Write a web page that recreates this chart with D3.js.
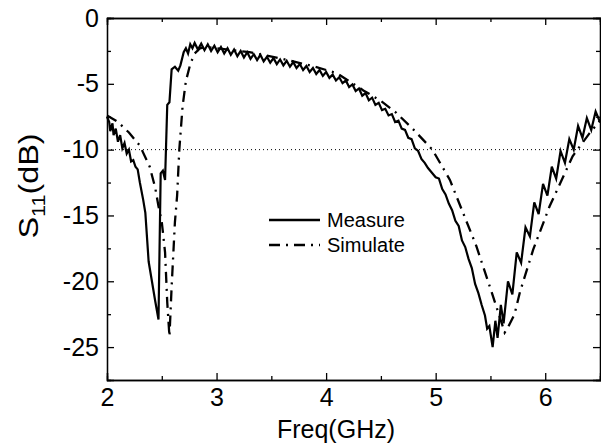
<!DOCTYPE html>
<html>
<head>
<meta charset="utf-8">
<script src="https://d3js.org/d3.v7.min.js"></script>
<style>
  body { margin: 0; background: #fff; }
  text { font-family: Arial, "Liberation Sans", sans-serif; fill: #000; }
  .axis path, .axis line { stroke: #000; stroke-width: 1.3; }
</style>
</head>
<body>
<script>
var measFreq = [2.00, 2.02, 2.03, 2.05, 2.06, 2.08, 2.10, 2.12, 2.14, 2.16, 2.18, 2.20, 2.22, 2.24, 2.26, 2.28, 2.30, 2.33, 2.35, 2.38,
  2.41, 2.44, 2.47, 2.49, 2.51, 2.53, 2.55, 2.57, 2.59, 2.62, 2.65, 2.67, 2.70, 2.72, 2.74, 2.76, 2.78,
  2.80, 2.83, 2.86, 2.89, 2.92, 2.95, 2.98, 3.01, 3.04, 3.07, 3.10, 3.13, 3.16, 3.19, 3.22, 3.25, 3.28, 3.31, 3.34, 3.37,
  3.40, 3.43, 3.46, 3.49, 3.52, 3.55, 3.58, 3.61, 3.64, 3.67, 3.70, 3.73, 3.76, 3.79, 3.82, 3.85, 3.88, 3.91, 3.94, 3.97,
  4.00, 4.03, 4.06, 4.09, 4.12, 4.15, 4.18, 4.21, 4.24, 4.27, 4.30, 4.33, 4.36, 4.39, 4.42, 4.45, 4.48, 4.51, 4.54, 4.57,
  4.60, 4.63, 4.66, 4.69, 4.72, 4.75, 4.78, 4.81, 4.84, 4.87, 4.90, 4.93, 4.96, 5.00, 5.03, 5.06, 5.09, 5.12, 5.15, 5.18,
  5.21, 5.24, 5.27, 5.30, 5.33, 5.36, 5.39, 5.42, 5.45, 5.47, 5.49, 5.52, 5.545, 5.565, 5.595, 5.62, 5.66, 5.70, 5.74, 5.78,
  5.82, 5.86, 5.90, 5.94, 5.98, 6.02, 6.06, 6.10, 6.14, 6.18, 6.22, 6.26, 6.30, 6.34, 6.38, 6.42, 6.46, 6.50];
var measS11 = [-7.5, -7.9, -8.6, -8.0, -8.9, -8.4, -9.4, -8.9, -9.9, -9.5, -10.3, -10.0, -10.9, -10.8, -11.3, -11.5, -12.5, -13.8, -14.8, -18.5,
  -20.0, -21.5, -22.9, -11.8, -11.6, -12.3, -6.6, -6.4, -3.9, -3.7, -4.0, -3.6, -2.6, -2.3, -2.7, -2.0, -2.3,
  -1.9, -2.4, -1.95, -2.45, -2.0, -2.5, -2.1, -2.6, -2.2, -2.7, -2.3, -2.8, -2.4, -2.9, -2.5, -3.0, -2.6, -3.1, -2.75, -3.2,
  -2.8, -3.3, -2.95, -3.4, -3.05, -3.5, -3.15, -3.6, -3.25, -3.7, -3.35, -3.8, -3.5, -3.95, -3.65, -4.1, -3.8, -4.25, -3.95, -4.4,
  -4.1, -4.55, -4.3, -4.75, -4.5, -4.95, -4.75, -5.25, -5.05, -5.55, -5.35, -5.9, -5.7, -6.25, -6.05, -6.6, -6.45, -7.0, -6.9, -7.4,
  -7.3, -7.9, -7.8, -8.4, -8.5, -9.1, -9.2, -9.9, -10.1, -10.7, -11.0, -11.4, -11.7, -12.1, -12.2, -13.0, -13.4, -14.1, -14.6, -15.4,
  -15.8, -16.9, -17.4, -18.3, -19.0, -20.2, -20.9, -21.8, -22.6, -23.6, -23.4, -25.0, -23.0, -24.3, -21.8, -23.2, -20.0, -21.0, -17.8, -18.6,
  -15.9, -16.6, -14.0, -14.9, -12.6, -13.5, -11.3, -12.2, -10.1, -11.0, -9.2, -10.0, -8.2, -9.1, -7.6, -8.5, -7.1, -7.9];

// simulated S11
var simFreq = [2.00, 2.10, 2.20, 2.30, 2.39, 2.44, 2.47, 2.50, 2.53, 2.55, 2.57, 2.59, 2.62, 2.64, 2.66, 2.69, 2.72, 2.76, 2.80, 2.85,
  2.90, 3.00, 3.30, 3.60, 3.90, 4.10, 4.34, 4.50, 4.64, 4.80, 4.97, 5.13, 5.25, 5.37, 5.51, 5.60, 5.63, 5.66, 5.72, 5.77,
  5.89, 6.04, 6.25, 6.40, 6.50];
var simS11 = [-7.4, -7.9, -8.7, -9.7, -11.3, -12.9, -14.3, -15.5, -17.8, -21.6, -24.2, -20.4, -15.5, -13.5, -10.0, -6.7, -4.8, -3.5, -2.7, -2.3,
  -2.2, -2.3, -2.6, -3.1, -3.7, -4.2, -5.5, -6.3, -7.2, -8.5, -10.0, -12.3, -14.8, -17.3, -20.8, -23.1, -23.9, -23.5, -22.5, -20.8,
  -17.6, -14.3, -10.5, -8.8, -7.8];

var xTicks = [2, 3, 4, 5, 6];
var xMinor = [2.5, 3.5, 4.5, 5.5, 6.5];
var yTicks = [0, -5, -10, -15, -20, -25];
var yMinor = [-2.5, -7.5, -12.5, -17.5, -22.5];
var refLevel = -10;

var W = 601, H = 446;
var pLeft = 107, pRight = 600, pTop = 18, pBottom = 380;

var svg = d3.select("body").append("svg")
  .attr("width", W)
  .attr("height", H);

var x = d3.scaleLinear().domain([2, 6.5]).range([pLeft, pRight]);
var y = d3.scaleLinear().domain([-27.5, 0]).range([pBottom, pTop]);

// axes, ticks pointing in; labels use a plain hyphen
function addAxis(gen, tr, vals, size, labels) {
  var g = svg.append("g").attr("class", "axis").attr("transform", tr)
    .call(gen.tickValues(vals).tickSize(size).tickPadding(labels ? 8 : 0)
      .tickFormat(labels ? function(d) { return String(d); } : ""));
  g.selectAll("text").attr("font-size", 25).attr("font-family", "Arial, 'Liberation Sans', sans-serif");
  return g;
}
addAxis(d3.axisBottom(x), "translate(0," + pBottom + ")", xTicks, -7, true);
addAxis(d3.axisBottom(x), "translate(0," + pBottom + ")", xMinor, -4, false);
addAxis(d3.axisTop(x), "translate(0," + pTop + ")", xTicks, -7, false);
addAxis(d3.axisTop(x), "translate(0," + pTop + ")", xMinor, -4, false);
addAxis(d3.axisLeft(y), "translate(" + pLeft + ",0)", yTicks, -7, true);
addAxis(d3.axisLeft(y), "translate(" + pLeft + ",0)", yMinor, -4, false);
addAxis(d3.axisRight(y), "translate(" + pRight + ",0)", yTicks, -7, false);
addAxis(d3.axisRight(y), "translate(" + pRight + ",0)", yMinor, -4, false);

svg.selectAll(".axis .domain").attr("stroke-width", 1.5);

// -10 dB reference
svg.append("line")
  .attr("x1", pLeft).attr("x2", pRight)
  .attr("y1", y(refLevel)).attr("y2", y(refLevel))
  .attr("stroke", "#000").attr("stroke-width", 1)
  .attr("stroke-dasharray", "1,3");

var line = d3.line().x(function(d) { return x(d[0]); }).y(function(d) { return y(d[1]); });

svg.append("path")
  .datum(d3.zip(simFreq, simS11))
  .attr("fill", "none").attr("stroke", "#000").attr("stroke-width", 2.3)
  .attr("stroke-dasharray", "11,6,2,6")
  .attr("d", line);

svg.append("path")
  .datum(d3.zip(measFreq, measS11))
  .attr("fill", "none").attr("stroke", "#000").attr("stroke-width", 2.2)
  .attr("d", line);

// legend
var leg = svg.append("g");
leg.append("line").attr("x1", 269).attr("x2", 320).attr("y1", 220).attr("y2", 220)
  .attr("stroke", "#000").attr("stroke-width", 2.3);
leg.append("line").attr("x1", 269).attr("x2", 320).attr("y1", 245).attr("y2", 245)
  .attr("stroke", "#000").attr("stroke-width", 2.3).attr("stroke-dasharray", "11,6,2,6");
leg.append("text").attr("x", 327).attr("y", 227).attr("font-size", 20).text("Measure");
leg.append("text").attr("x", 327).attr("y", 252).attr("font-size", 20).text("Simulate");

// axis titles
svg.append("text")
  .attr("x", 336).attr("y", 438)
  .attr("text-anchor", "middle").attr("font-size", 25)
  .text("Freq(GHz)");

var yt = svg.append("text")
  .attr("transform", "translate(38,186) rotate(-90) scale(1.2,1)")
  .attr("text-anchor", "middle").attr("font-size", 27);
yt.append("tspan").text("S");
yt.append("tspan").attr("font-size", 18).attr("dy", 7).text("11");
yt.append("tspan").attr("dy", -7).text("(dB)");
</script>
</body>
</html>
